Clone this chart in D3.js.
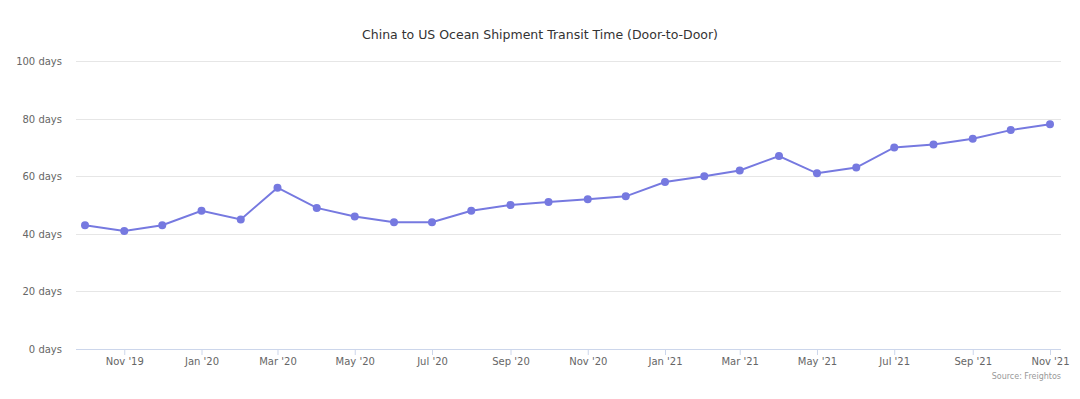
<!DOCTYPE html>
<html>
<head>
<meta charset="utf-8"/>
<script src="https://d3js.org/d3.v7.min.js"></script>
<style>
	body { margin: 0; background: #fff; }
	svg text { font-family: "DejaVu Sans", sans-serif; }
	.grid line { stroke: #e6e6e6; stroke-width: 1; }
	.x.axis path, .x.axis line { stroke: #ccd6eb; }
</style>
</head>
<body>
<div id="chart"></div>
<script>
// monthly readings, Oct 2019 .. Nov 2021
var months = ["2019-10","2019-11","2019-12","2020-01","2020-02","2020-03","2020-04","2020-05","2020-06","2020-07",
	"2020-08","2020-09","2020-10","2020-11","2020-12","2021-01","2021-02","2021-03","2021-04","2021-05",
	"2021-06","2021-07","2021-08","2021-09","2021-10","2021-11"];
var transitDays = [43,41,43,48,45,56,49,46,44,44,48,50,51,52,53,58,60,62,67,61,63,70,71,73,76,78];
var yTicks = [0,20,40,60,80,100];
var xTickMonths = ["2019-11","2020-01","2020-03","2020-05","2020-07","2020-09","2020-11","2021-01","2021-03","2021-05","2021-07","2021-09","2021-11"];

var W = 1080, H = 399;
var m = {top: 61, right: 19, bottom: 50, left: 76};
var w = W - m.left - m.right, h = H - m.top - m.bottom;
var parse = d3.timeParse("%Y-%m");
var fmt = function(d) { return d3.timeFormat("%b '%y")(d); };

var data = months.map(function(s, i) { return {date: parse(s), v: transitDays[i]}; });

var x = d3.scaleTime().domain(d3.extent(data, d => d.date)).range([9, w - 11]);
var y = d3.scaleLinear().domain([0, 100]).range([h, 0]);

var svg = d3.select("#chart").append("svg").attr("width", W).attr("height", H);

svg.append("text")
	.attr("x", W/2).attr("y", 39)
	.attr("text-anchor", "middle")
	.style("font-size", "12.5px").style("fill", "#333")
	.text("China to US Ocean Shipment Transit Time (Door-to-Door)");

var g = svg.append("g").attr("transform", `translate(${m.left},${m.top})`);

// horizontal grid + y labels
g.append("g").attr("class", "grid")
	.selectAll("line").data(yTicks).enter().append("line")
	.attr("x1", 0).attr("x2", w)
	.attr("y1", d => Math.round(y(d)) + 0.5).attr("y2", d => Math.round(y(d)) + 0.5);

g.append("g").selectAll("text").data(yTicks).enter().append("text")
	.attr("x", -14).attr("y", d => y(d) + 4)
	.attr("text-anchor", "end")
	.style("font-size", "10px").style("fill", "#666")
	.text(d => d + " days");

// x axis
var xa = g.append("g").attr("class", "x axis").attr("transform", `translate(0,${h})`)
	.call(d3.axisBottom(x).tickValues(xTickMonths.map(parse)).tickFormat(fmt).tickSize(6).tickSizeOuter(0));
xa.select(".domain").attr("d", `M0,0.5H${w}`);
xa.selectAll("text").style("font-size", "10px").style("fill", "#666");

// series
var line = d3.line().x(d => x(d.date)).y(d => y(d.v));
g.append("path").datum(data)
	.attr("d", line)
	.style("fill", "none").style("stroke", "#7679e0").style("stroke-width", 2);

g.selectAll("circle").data(data).enter().append("circle")
	.attr("cx", d => x(d.date)).attr("cy", d => y(d.v)).attr("r", 4)
	.style("fill", "#7679e0");

svg.append("text")
	.attr("x", 1061).attr("y", 379)
	.attr("text-anchor", "end")
	.style("font-size", "8px").style("fill", "#999")
	.text("Source: Freightos");
</script>
</body>
</html>
